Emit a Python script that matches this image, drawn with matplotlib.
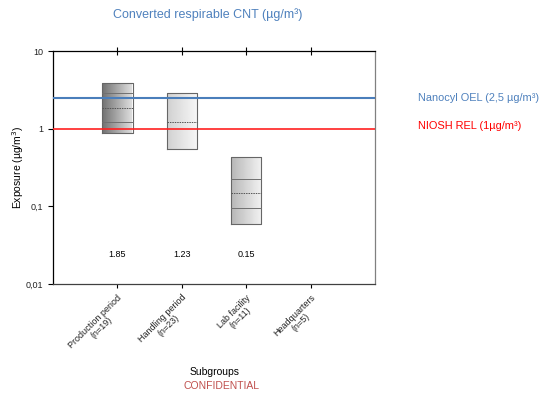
import numpy as np
import matplotlib
matplotlib.use("Agg")
import matplotlib.pyplot as plt

plt.rcParams['font.family'] = ['Liberation Sans', 'DejaVu Sans']

# data
grupper = ['Production period\n(n=19)', 'Handling period\n(n=23)',
           'Lab facility\n(n=11)', 'Headquarters\n(n=5)']
bunn = [0.88, 0.54, 0.060]      # box bottom
q_lav = [1.22, None, 0.094]     # lower inner line
midt = [1.85, 1.23, 0.15]       # dotted line (labelled value)
q_hoy = [2.88, None, 0.223]     # upper inner line
topp = [3.87, 2.86, 0.43]       # box top
midt_tekst = ['1.85', '1.23', '0.15']
# grey levels of the shading, left -> right
gradient = [(0.45, 0.88), (0.82, 0.97), (0.72, 0.95)]

oel = 2.5
rel = 1.0

fig = plt.figure(figsize=(5.39, 3.96), dpi=100)
ax = fig.add_axes([0.0983, 0.2828, 0.5974, 0.5884])
ax.set_yscale('log')
ax.set_ylim(0.01, 10)
ax.set_xlim(-1, 4)

bredde = 0.47
for i in range(len(midt)):
    x0, x1 = i - bredde / 2, i + bredde / 2
    g = np.linspace(gradient[i][0], gradient[i][1], 64).reshape(1, -1)
    ax.imshow(g, cmap='gray', vmin=0, vmax=1, aspect='auto',
              extent=[x0, x1, bunn[i], topp[i]], interpolation='bilinear',
              zorder=2)
    ax.plot([x0, x1, x1, x0, x0], [bunn[i], bunn[i], topp[i], topp[i], bunn[i]],
            color='#666666', lw=0.8, zorder=3)
    for v in (q_lav[i], q_hoy[i]):
        if v is not None:
            ax.plot([x0, x1], [v, v], color='#707070', lw=0.7, zorder=3)
    ax.plot([x0, x1], [midt[i], midt[i]], color='#555555', lw=0.7,
            ls=(0, (1.5, 1)), zorder=3)
    ax.text(i, 0.024, midt_tekst[i], ha='center', va='center', fontsize=6.5)

ax.axhline(oel, color='#4a7ebb', lw=1.5, zorder=4)
ax.axhline(rel, color='#ff2020', lw=1.2, zorder=4)

ax.set_xticks(range(len(grupper)))
ax.set_xticklabels(grupper, rotation=45, ha='right', va='top',
                   rotation_mode='anchor', fontsize=6.5, color='#222222',
                   linespacing=1.0, multialignment='center')
ax.set_yticks([0.01, 0.1, 1, 10])
ax.set_yticklabels(['0,01', '0,1', '1', '10'], fontsize=6.5, color='#222222')
ax.minorticks_off()
ax.tick_params(axis='x', length=3, width=0.8, top=True, direction='out')
ax.tick_params(axis='y', length=3.5, width=0.8)
for t in ax.xaxis.get_major_ticks():
    t.tick2line.set_marker('|')
    t.tick2line.set_markersize(6)

ax.spines['right'].set_color('#808080')
ax.spines['bottom'].set_color('#404040')
for s in ax.spines.values():
    s.set_linewidth(0.9)

ax.set_ylabel('Exposure (µg/m$^3$)', fontsize=7.5)
ax.yaxis.set_label_coords(-0.085, 0.5)

fig.text(0.386, 0.962, 'Converted respirable CNT (µg/m³)', ha='center',
         va='center', fontsize=9, color='#4f81bd')
fig.text(0.776, 0.753, 'Nanocyl OEL (2,5 µg/m³)', ha='left', va='center',
         fontsize=7.9, color='#4f81bd')
fig.text(0.776, 0.682, 'NIOSH REL (1µg/m³)', ha='left', va='center',
         fontsize=7.9, color='#ff0000')
fig.text(0.398, 0.060, 'Subgroups', ha='center', va='center', fontsize=7.5)
fig.text(0.411, 0.025, 'CONFIDENTIAL', ha='center', va='center', fontsize=7.5,
         color='#c0504d')

fig.savefig('out.png', dpi=100)
